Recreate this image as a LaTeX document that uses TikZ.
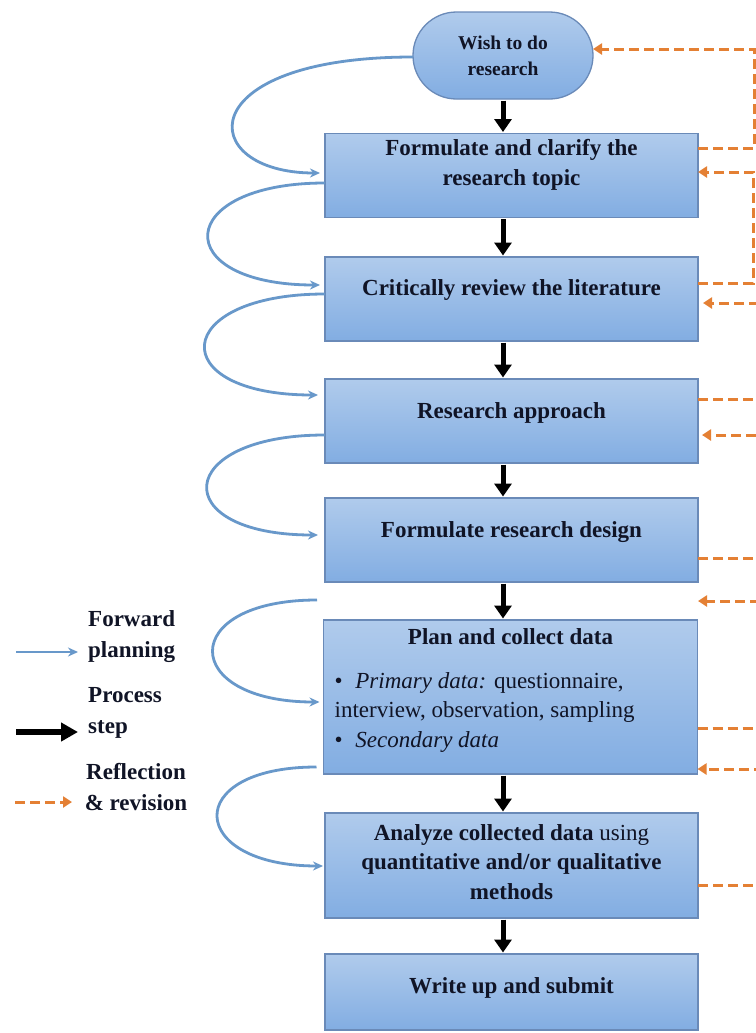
\documentclass[tikz,border=0pt]{standalone}
\usepackage{fontspec}
\setmainfont{Liberation Serif}
\usetikzlibrary{arrows.meta,calc}

\definecolor{boxtop}{RGB}{176,203,236}
\definecolor{boxbot}{RGB}{130,173,226}
\definecolor{boxline}{RGB}{106,138,184}
\definecolor{fwdblue}{RGB}{104,152,202}
\definecolor{revorange}{RGB}{228,128,52}
\definecolor{ink}{RGB}{16,20,38}

\begin{document}
\begin{tikzpicture}[x=1bp,y=-1bp,
  stage/.style={draw=boxline, line width=1.3bp, top color=boxtop, bottom color=boxbot,
    minimum width=373bp, minimum height=84bp, inner sep=0pt, outer sep=0pt},
  stagetext/.style={font=\fontsize{23bp}{29.5bp}\selectfont\bfseries, text=ink,
    align=center, inner sep=0pt},
  legendtext/.style={font=\fontsize{23bp}{31bp}\selectfont\bfseries, text=ink,
    inner sep=0pt},
  procarrow/.style={line width=5bp, black, -{Triangle[width=17bp,length=13bp]},
    shorten <=1.5bp, shorten >=1.5bp},
  fwd/.style={fwdblue, line width=2.8bp, -{Stealth[length=10bp,width=9bp]}},
  rev/.style={revorange, line width=3bp, dash pattern=on 10bp off 5bp,
    -{Triangle[length=9bp,width=11bp]}}
]
\useasboundingbox (0,0) rectangle (756,1033);
\clip (0,0) rectangle (756,1033);
\fill[white] (0,0) rectangle (756,1033);

% ---- process stages ----
\node[stage, rounded corners=43.5bp, minimum width=180bp, minimum height=87bp] (wish) at (503,55.5) {};
\node[stagetext, font=\fontsize{19.5bp}{26bp}\selectfont\bfseries] (wisht) at (wish.center) {Wish to do\\research};

\node[stage] (b1) at (511.5,175.5) {};
\node[stagetext] (t1) at ([yshift=10.5bp]b1.center) {Formulate and clarify the\\research topic};

\node[stage] (b2) at (511.5,299) {};
\node[stagetext] (t2) at ([yshift=9bp]b2.center) {Critically review the literature};

\node[stage] (b3) at (511.5,421) {};
\node[stagetext] (t3) at ([yshift=8bp]b3.center) {Research approach};

\node[stage] (b4) at (511.5,540) {};
\node[stagetext] (t4) at ([yshift=8bp]b4.center) {Formulate research design};

\node[stage, minimum width=374bp, minimum height=154bp] (b5) at (510.5,697) {};
\node[stagetext] (t5) at ([yshift=-17bp]b5.north) {Plan and collect data};
\node[stagetext, font=\fontsize{23bp}{29.5bp}\selectfont, align=left, anchor=north west]
  (t5b) at ([xshift=11bp,yshift=-52bp]b5.north west)
  {\textbullet\hspace{0.55em}\textit{Primary data:} questionnaire,\\
   interview, observation, sampling\\
   \textbullet\hspace{0.55em}\textit{Secondary data}};

\node[stage, minimum height=105bp] (b6) at (511.5,865.5) {};
\node[stagetext] (t6) at ([yshift=3.5bp]b6.center)
  {Analyze collected data \textmd{using}\\quantitative and/or qualitative\\methods};

\node[stage, minimum height=76bp] (b7) at (511.5,992) {};
\node[stagetext] (t7) at ([yshift=4bp]b7.center) {Write up and submit};

% ---- process steps ----
\draw[procarrow] (wish.south) -- (b1.north -| wish.south);
\draw[procarrow] (b1.south -| wish.south) -- (b2.north -| wish.south);
\draw[procarrow] (b2.south -| wish.south) -- (b3.north -| wish.south);
\draw[procarrow] (b3.south -| wish.south) -- (b4.north -| wish.south);
\draw[procarrow] (b4.south -| wish.south) -- (b5.north -| wish.south);
\draw[procarrow] (b5.south -| wish.south) -- (b6.north -| wish.south);
\draw[procarrow] (b6.south -| wish.south) -- (b7.north -| wish.south);

% ---- forward planning ----
\coordinate (f5s) at (317,600);
\draw[fwd] ([yshift=-1.5bp]wish.west) .. controls +(-225,0) and +(-125,0) .. ([xshift=-5bp,yshift=2.5bp]b1.west);
\draw[fwd] ([yshift=-7.5bp]b1.west) .. controls +(-152,0) and +(-152,0) .. ([xshift=-5bp,yshift=14bp]b2.west);
\draw[fwd] ([yshift=5bp]b2.west) .. controls +(-155,0) and +(-155,0) .. ([xshift=-7bp,yshift=26bp]b3.west);
\draw[fwd] ([yshift=-14bp]b3.west) .. controls +(-152,0) and +(-152,0) .. ([xshift=-7bp,yshift=5bp]b4.west);
\draw[fwd] (f5s) .. controls +(-140,0) and +(-140,0) .. ([xshift=-4bp,yshift=-5bp]b5.west);
\draw[fwd] ([xshift=-7bp,yshift=-70bp]b5.west) .. controls +(-136,0) and +(-136,0) .. ([xshift=-2bp,yshift=-0.5bp]b6.west);

% ---- reflection and revision ----
\coordinate (r5e) at (698,601);
\draw[rev] ([yshift=27.5bp]b1.east) -- ++(56,0) |- ([yshift=6.5bp]wish.east);
\draw[rev] ([yshift=16bp]b2.east) -- ++(55,0) |- ([yshift=3.5bp]b1.east);
\draw[rev] ([yshift=22bp]b3.east) -- ++(80,0) |- ([xshift=5bp,yshift=-4bp]b2.east);
\draw[rev] ([yshift=-18bp]b4.east) -- ++(80,0) |- ([xshift=4bp,yshift=-14bp]b3.east);
\draw[rev] ([yshift=-31bp]b5.east) -- ++(80,0) |- (r5e);
\draw[rev] ([yshift=-19.5bp]b6.east) -- ++(80,0) |- ([yshift=-72bp]b5.east);

% ---- legend ----
\node[legendtext, align=left, anchor=west] (lg1) at (88,637) {Forward\\planning};
\node[legendtext, align=left, anchor=west] (lg2) at (88,713) {Process\\step};
\node[legendtext, align=center] (lg3) at (136,787) {Reflection\\\& revision};

\coordinate (la1s) at (16,652);  \coordinate (la1e) at (78,652);
\coordinate (la2s) at (16,732);  \coordinate (la2e) at (78,732);
\coordinate (la3s) at (15,802);  \coordinate (la3e) at (72,802);
\draw[fwd] (la1s) -- (la1e);
\draw[procarrow, line width=6bp, -{Triangle[width=18bp,length=17bp]}, shorten <=0pt, shorten >=0pt] (la2s) -- (la2e);
\draw[rev] (la3s) -- (la3e);
\end{tikzpicture}
\end{document}
